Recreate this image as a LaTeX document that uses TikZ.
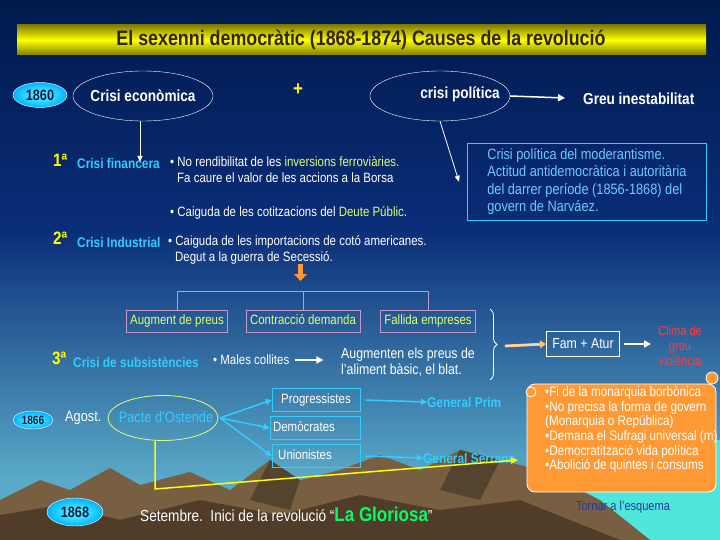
\documentclass[tikz,border=0pt]{standalone}
\usepackage{fontspec}
\setmainfont[FakeStretch=0.85]{Liberation Sans}
\usetikzlibrary{shapes.geometric,arrows.meta,decorations.pathreplacing}
\definecolor{navy}{RGB}{0,26,77}
\definecolor{navyb}{RGB}{10,45,120}
\definecolor{teal}{RGB}{90,170,200}
\definecolor{cyt}{RGB}{51,204,255}
\definecolor{lbl}{RGB}{110,200,255}
\definecolor{ylw}{RGB}{255,255,0}
\definecolor{ygr}{RGB}{220,255,120}
\definecolor{pnk}{RGB}{200,150,200}
\definecolor{org}{RGB}{255,153,51}
\definecolor{redc}{RGB}{255,60,60}
\definecolor{brn}{RGB}{120,95,65}
\definecolor{brnd}{RGB}{80,60,40}
\definecolor{sea}{RGB}{80,230,220}
\begin{document}
\begin{tikzpicture}[x=1pt,y=-1pt,
  wt/.style={text=white,font=\fontsize{13.5}{15.5}\selectfont,inner sep=0pt},
  bt/.style={font=\bfseries\fontsize{16}{18}\selectfont,inner sep=0pt},
  ord/.style={text=ylw,font=\bfseries\fontsize{18}{19}\selectfont,inner sep=0pt},
  crisi/.style={text=cyt,font=\bfseries\fontsize{14}{15}\selectfont,inner sep=0pt},
  oval/.style={ellipse,draw=white,thin,minimum width=140,minimum height=50},
  yr/.style={ellipse,draw=white,inner color=cyan!60,outer color=cyan!70!blue,text=navy,font=\bfseries\fontsize{15}{16}\selectfont},
  pbox/.style={draw=pnk,thick,text=ygr,font=\fontsize{13.5}{15}\selectfont,minimum height=22,text height=9pt,text depth=2.5pt,inner sep=4pt},
  cbox/.style={draw=cyt,thick,text=white,font=\fontsize{13.5}{15}\selectfont,minimum height=23,minimum width=88,text height=9pt,text depth=2.5pt,inner sep=3pt},
  warr/.style={draw=white,line width=1.5pt,-{Triangle[length=7pt,width=7pt]}},
  carr/.style={draw=cyt,line width=1.5pt,-{Triangle[length=6pt,width=6pt]}}]
\useasboundingbox (0,0) rectangle (720,540);
% background
\shade[top color=navy,bottom color=navyb] (0,0) rectangle (720,230);
\shade[top color=navyb,bottom color=teal] (0,230) rectangle (720,480);
\fill[sea] (560,440) rectangle (720,540);
\fill[teal] (0,480) rectangle (560,540);
% mountains
\fill[brn] (0,540) -- (0,500) -- (40,480) -- (70,490) -- (110,468) -- (140,485) -- (190,472) -- (230,490) -- (270,460) -- (300,480) -- (340,470) -- (380,455) -- (420,470) -- (460,450) -- (500,460) -- (540,470) -- (600,500) -- (650,540) -- cycle;
\fill[brnd] (0,540) -- (0,515) -- (60,505) -- (120,520) -- (200,500) -- (280,515) -- (360,495) -- (440,510) -- (520,500) -- (620,540) -- cycle;
\fill[brn!70!black] (270,460) -- (300,480) -- (290,510) -- (250,500) -- cycle;
\fill[brn!70!black] (460,450) -- (500,460) -- (480,500) -- (440,490) -- cycle;
% title
\shade[top color=olive,bottom color=olive,middle color=ylw] (17,25) rectangle (706,55);
\node[font=\bfseries\fontsize{21}{22}\selectfont,text=brnd!60!black] (title) at (361,40) {El sexenni democràtic (1868-1874) Causes de la revolució};
% top row
\node[yr,minimum width=54,minimum height=25,inner sep=0pt] (y1860) at (40,95) {1860};
\node[oval] (eco) at (143,96) {};
\node[bt,text=white] at (143,96) {Crisi econòmica};
\node[text=ylw,font=\bfseries\fontsize{20}{20}\selectfont] (plus) at (298,90) {+};
\node[oval] (pol) at (440,96) {};
\node[bt,text=white] (polt) at (460,94) {crisi política};
\coordinate (ga) at (565,98);
\node[bt,text=white,anchor=west] (greu) at (583,99) {Greu inestabilitat};
\draw[warr] (pol.east) -- (ga);
\coordinate (ecob) at (140,162);
\draw[white,thick,-{Triangle[length=6pt,width=5pt]}] (eco.south-|ecob) -- (ecob);
\node[draw=cyt,thick,text=lbl,align=left,anchor=north west,font=\fontsize{15}{17.5}\selectfont,inner sep=5pt,minimum width=239,minimum height=75] (polbox) at (467,143) {Crisi política del moderantisme.\\Actitud antidemocràtica i autoritària\\del darrer període (1856-1868) del\\govern de Narváez.};
\draw[white,thick,-{Triangle[length=6pt,width=5pt]}] (pol.south) -- ([xshift=-8]polbox.west);
% crises
\node[ord,anchor=west] (o1) at (53,160) {1ª};
\node[crisi,anchor=west] (c1) at (77,163) {Crisi financera};
\node[wt,anchor=north west,align=left] (b1) at (170,156) {• No rendibilitat de les \textcolor{ygr}{inversions ferroviàries.}\\[1pt]\hspace*{7pt}Fa caure el valor de les accions a la Borsa};
\node[wt,anchor=west] (b2) at (170,213) {• Caiguda de les cotitzacions del \textcolor{ygr}{Deute Públic}.};
\node[ord,anchor=west] (o2) at (53,238) {2ª};
\node[crisi,anchor=west] (c2) at (77,242) {Crisi Industrial};
\node[wt,anchor=north west,align=left] (b3) at (168,235) {• Caiguda de les importacions de cotó americanes.\\[1pt]\hspace*{7pt}Degut a la guerra de Secessió.};
\fill[org] (298,264) rectangle (303,274);
\fill[org] (294,274) -- (307,274) -- (300.5,281) -- cycle;
% tree
\node[pbox] (ap) at (177,321) {Augment de preus};
\node[pbox] (cd) at (303,321) {Contracció demanda};
\node[pbox] (fe) at (428,321) {Fallida empreses};
\draw[pnk,thick] (ap.north) -- ++(0,-18) -| (fe.north);
\draw[pnk,thick] (cd.north) -- ++(0,-18);
\draw[white,thick,decorate,decoration={brace,amplitude=7pt}] (490,309) -- (490,380);
\node[draw=white,thick,text=white,font=\fontsize{14.5}{16}\selectfont,minimum height=25,inner sep=6pt] (fam) at (583,344) {Fam + Atur};
\coordinate (br) at (505,346);
\draw[double=org!40,double distance=2pt,draw=org!70,-{Triangle[length=6pt,width=8pt,fill=org!60]}] (br) -- (fam.west);
\node[text=redc,align=center,font=\fontsize{13}{15}\selectfont] (clima) at (680,346) {Clima de\\greu\\violència};
\coordinate (ce) at (651,344);
\draw[warr] (fam.east)++(4,0) -- (ce);
\node[ord,anchor=west] (o3) at (52,358) {3ª};
\node[crisi,anchor=west] (c3) at (73,362) {Crisi de subsistències};
\node[wt,anchor=west] (mc) at (213,360) {• Males collites};
\node[wt,anchor=west,align=left,font=\fontsize{14.5}{15.5}\selectfont] (aug) at (341,362) {Augmenten els preus de\\l'aliment bàsic, el blat.};
\draw[warr] (mc.east)++(6,0) -- ++(28,0);
% 1866
\node[yr,minimum width=40,minimum height=18,inner sep=0pt,font=\bfseries\fontsize{12}{12}\selectfont] (y1866) at (33,420) {1866};
\node[wt,anchor=west,font=\fontsize{15}{16}\selectfont] (agost) at (65,418) {Agost.};
\node[ellipse,draw=ygr,thick,minimum width=110,minimum height=45,inner sep=0pt] (pacte) at (163,418) {};
\node[text=cyt,font=\fontsize{15}{16}\selectfont,inner sep=0pt] at (166,417) {Pacte d'Ostende};
\node[cbox] (prog) at (316,400) {Progressistes};
\node[cbox] (dem) at (315,428) {Demòcrates\hspace*{22pt}};
\node[cbox] (uni) at (316,456) {Unionistes\hspace*{22pt}};
\coordinate (pe) at (220,418);
\draw[carr] (pe) -- (prog.west);
\draw[carr] (pe) -- (dem.west);
\draw[carr] (pe) -- (uni.west);
\node[crisi,anchor=west,font=\bfseries\fontsize{14}{15}\selectfont] (prim) at (427,402) {General Prim};
\node[crisi,anchor=west,font=\bfseries\fontsize{14}{15}\selectfont] (serr) at (423,458) {General Serrano};
\draw[carr] (prog.east)++(5,0) -- (prim.west);
\draw[carr] (uni.east)++(5,0) -- (serr.west);
% scroll
\draw[white,thick,fill=org,rounded corners=8pt] (527,384) rectangle (716,492);
\draw[white,thick,fill=org] (712,378) circle (6);
\draw[white,thick,fill=org] (531,392) circle (5);
\node[text=white,anchor=north west,align=left,font=\fontsize{13.8}{14.7}\selectfont,inner sep=0pt] (scr) at (545,386) {•Fi de la monarquia borbònica\\•No precisa la forma de govern\\(Monarquia o República)\\•Demana el Sufragi universal (m)\\•Democratització vida política\\•Abolició de quintes i consums};
\coordinate (yl) at (155,489);
\coordinate (ye) at (518,460);
\draw[ylw,line width=1.5pt,-{Triangle[length=7pt,width=6pt]}] (pacte.south-|yl) -- (yl) -- (ye);
% 1868
\node[yr,minimum width=56,minimum height=28,inner sep=0pt] (y1868) at (75,512) {1868};
\node[wt,anchor=west,font=\fontsize{16}{17}\selectfont] (set) at (140,514) {Setembre.\ \ Inici de la revolució “\textcolor{green!60!cyan}{\bfseries\fontsize{20}{20}\selectfont La Gloriosa}”};
\node[text=blue!50!teal!70!black,font=\fontsize{13}{14}\selectfont] (torn) at (623,507) {Tornar a l'esquema};
\end{tikzpicture}
\end{document}
